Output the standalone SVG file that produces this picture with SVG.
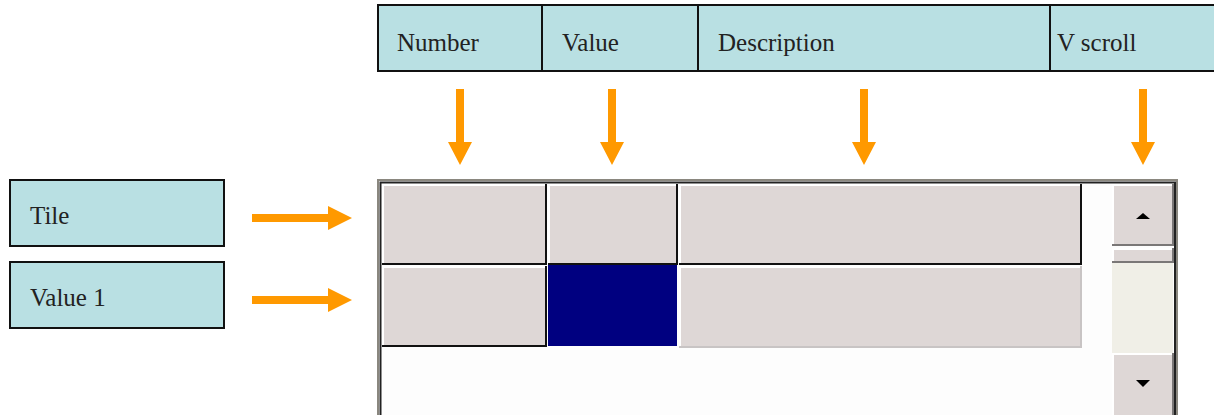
<svg xmlns="http://www.w3.org/2000/svg" width="1214" height="415" viewBox="0 0 1214 415">
<style>
.lbl{fill:#b9e0e3;stroke:#111;stroke-width:2}
.t{font-family:"Liberation Serif","Times New Roman",serif;font-size:25px;fill:#222}
.arr{fill:#ff9900}
.cell{fill:#ded7d6}
.hl{stroke:#fff;stroke-width:2;fill:none}
.sh{stroke:#111;stroke-width:2;fill:none}
.lsh{stroke:#c8c4c4;stroke-width:2;fill:none}
.bsh{stroke:#7a7777;stroke-width:2;fill:none}
</style>
<rect width="1214" height="415" fill="#fff"/>
<g id="header">
<rect class="lbl" x="378" y="5" width="840" height="66"/>
<line x1="542" y1="5" x2="542" y2="71" stroke="#111" stroke-width="2"/>
<line x1="698" y1="5" x2="698" y2="71" stroke="#111" stroke-width="2"/>
<line x1="1050" y1="5" x2="1050" y2="71" stroke="#111" stroke-width="2"/>
<text class="t" x="397" y="51">Number</text>
<text class="t" x="562" y="51">Value</text>
<text class="t" x="718" y="51">Description</text>
<text class="t" x="1057" y="51">V scroll</text>
</g>
<g id="tile">
<rect class="lbl" x="10" y="180" width="214" height="66"/>
<text class="t" x="30" y="224">Tile</text>
</g>
<g id="value1">
<rect class="lbl" x="10" y="262" width="214" height="66"/>
<text class="t" x="30" y="306">Value 1</text>
</g>
<g id="connectors">
<path class="arr" d="M456 89h8v53h8l-12 23l-12-23h8z"/>
<path class="arr" d="M608 89h8v53h8l-12 23l-12-23h8z"/>
<path class="arr" d="M860 89h8v53h8l-12 23l-12-23h8z"/>
<path class="arr" d="M1139 89h8v53h8l-12 23l-12-23h8z"/>
<path class="arr" d="M252 214h76v-8l24 12l-24 12v-8h-76z"/>
<path class="arr" d="M252 296h76v-8l24 12l-24 12v-8h-76z"/>
</g>
<g id="widget">
<rect x="378" y="180" width="800" height="240" fill="#fdfdfd"/>
<path d="M378 420V180H1177V420" fill="none" stroke="#8a877f" stroke-width="2"/>
<path d="M380.5 420V182.5H1175V420" fill="none" stroke="#222" stroke-width="2"/>
<rect class="cell" x="382" y="184" width="164" height="80"/>
<path class="hl" d="M383 264V185H546"/>
<path class="sh" d="M382 264H546V184"/>
<rect class="cell" x="548" y="184" width="129" height="80"/>
<path class="hl" d="M549 264V185H677"/>
<path class="sh" d="M548 264H677V184"/>
<rect class="cell" x="679" y="184" width="402" height="80"/>
<path class="hl" d="M680 264V185H1081"/>
<path class="sh" d="M679 264H1081V184"/>
<rect class="cell" x="382" y="266" width="164" height="80"/>
<path class="hl" d="M383 346V267H546"/>
<path class="sh" d="M382 346H546V266"/>
<rect x="548" y="265" width="129" height="81" fill="#000080"/>
<rect class="cell" x="679" y="266" width="402" height="81"/>
<path class="hl" d="M680 347V267H1081"/>
<path class="lsh" d="M679 347H1081V266"/>
<rect x="1112" y="263" width="61" height="90" fill="#f0efe7"/>
<rect class="cell" x="1112" y="184" width="61" height="62"/>
<path class="hl" d="M1113 246V185H1172"/>
<path class="bsh" d="M1112 245H1173V184"/>
<path d="M1136 219h14l-7-6z" fill="#000"/>
<rect class="cell" x="1112" y="248" width="61" height="15"/>
<path class="hl" d="M1113 263V249H1172"/>
<path class="bsh" d="M1112 262H1173V248"/>
<rect class="cell" x="1112" y="353" width="61" height="70"/>
<path class="hl" d="M1113 420V354H1172"/>
<path class="bsh" d="M1173 353V420"/>
<path d="M1136 380h14l-7 7z" fill="#000"/>
</g>
</svg>
